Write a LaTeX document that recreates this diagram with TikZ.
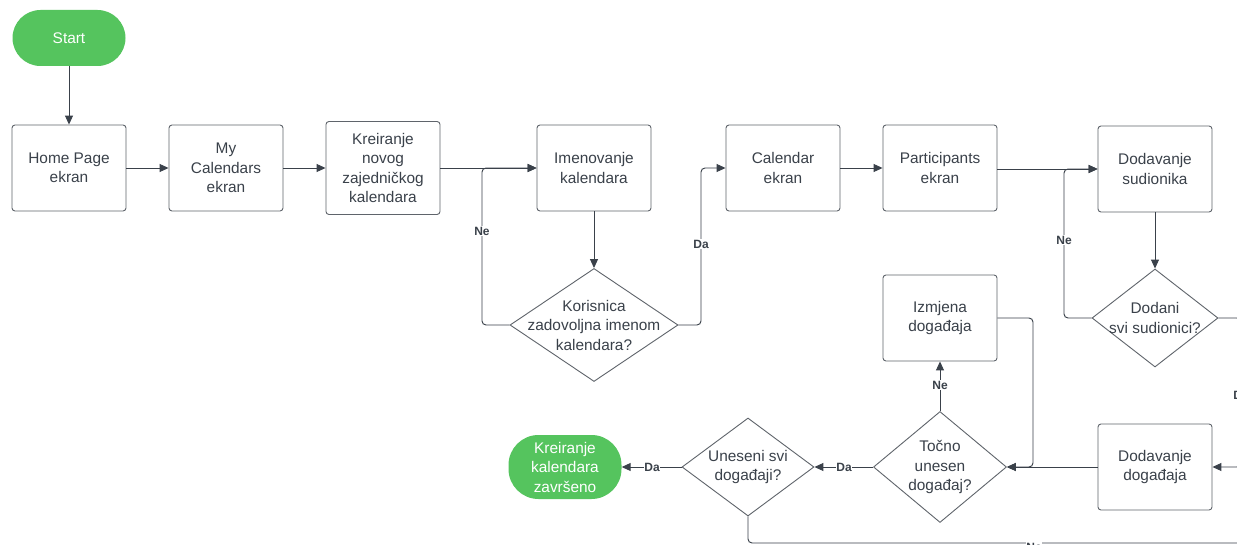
\documentclass[tikz,border=0pt]{standalone}
\usepackage{fontspec}
\setmainfont{Liberation Sans}
\usetikzlibrary{shapes.geometric,arrows.meta}
\definecolor{txt}{HTML}{3A414A}
\definecolor{bord}{HTML}{5F646B}
\definecolor{grn}{HTML}{55C45E}
\tikzset{
  x=1pt, y=-1pt,
  base/.style={align=center, text=txt, font=\fontsize{15.4}{19.5}\selectfont, inner sep=0pt},
  box/.style={base, draw=bord, line width=0.9pt, rounded corners=3pt, minimum width=114pt, minimum height=86pt},
  term/.style={base, fill=grn, text=white, minimum width=113pt},
  dia/.style={diamond, draw=bord, line width=0.9pt, inner sep=0pt},
  dtext/.style={base},
  conn/.style={draw=txt, line width=0.95pt, rounded corners=4pt, -{Triangle[length=9pt,width=8pt]}},
  plain/.style={draw=txt, line width=0.95pt, rounded corners=4pt},
  lab/.style={fill=white, text=txt, font=\bfseries\fontsize{12}{14}\selectfont, inner sep=0.6pt}
}
\begin{document}
\begin{tikzpicture}
\useasboundingbox (0,0) rectangle (1237,545);
\clip (0,0) rectangle (1237,545);
\fill[white] (0,0) rectangle (1237,545);

% nodes
\node[term, minimum height=56pt, rounded corners=28pt] (start) at (69,38) {Start};
\node[box] (home) at (69,168) {Home Page\\ekran};
\node[box] (mycal) at (226,168) {My\\Calendars\\ekran};
\node[box, minimum height=93pt] (kreir) at (383,168) {Kreiranje\\novog\\zajedničkog\\kalendara};
\node[box] (imen) at (594,168) {Imenovanje\\kalendara};
\node[dia, minimum width=168pt, minimum height=113pt] (kor) at (594,325) {};
\node[dtext] (kort) at (kor) {Korisnica\\zadovoljna imenom\\kalendara?};
\node[box] (cal) at (783,168) {Calendar\\ekran};
\node[box] (part) at (940,168) {Participants\\ekran};
\node[box] (dsud) at (1155,169) {Dodavanje\\sudionika};
\node[dia, minimum width=126pt, minimum height=98pt] (dodani) at (1155,318) {};
\node[dtext] (dodanit) at (dodani) {Dodani\\svi sudionici?};
\node[box] (izm) at (940,318) {Izmjena\\događaja};
\node[dia, minimum width=133pt, minimum height=111pt] (tocno) at (940,467) {};
\node[dtext] (tocnot) at (tocno) {Točno\\unesen\\događaj?};
\node[box] (ddog) at (1155,467) {Dodavanje\\događaja};
\node[dia, minimum width=132pt, minimum height=98pt] (unes) at (748,467) {};
\node[dtext] (unest) at (unes) {Uneseni svi\\događaji?};
\node[term, minimum height=64pt, rounded corners=30pt] (kraj) at (565,467) {Kreiranje\\kalendara\\završeno};

% helper coordinates
\coordinate (kl) at (482,325);
\coordinate (kr) at (701,325);
\coordinate (dl) at (1064,318);
\coordinate (dr) at (1241,318);
\coordinate (ir) at (1033,318);
\coordinate (ub) at (748,543);
\coordinate (ue) at (1300,543);

% connectors
\draw[conn] (start) -- (home);
\draw[conn] (home) -- (mycal);
\draw[conn] (mycal) -- (kreir);
\draw[conn] (kreir) -- (imen);
\draw[conn] (imen) -- (kor.north);
\draw[conn] (kor.west) -- (kl) |- (imen.west);
\draw[conn] (kor.east) -- (kr) |- (cal.west);
\draw[conn] (cal) -- (part);
\draw[conn] (part.east |- dsud.west) -- (dsud.west);
\draw[conn] (dsud) -- (dodani.north);
\draw[conn] (dodani.west) -- (dl) |- (dsud.west);
\draw[conn] (dodani.east) -- (dr) |- (ddog.east);
\draw[conn] (ddog) -- (tocno.east);
\draw[conn] (izm.east) -- (ir) |- (tocno.east);
\draw[conn] (tocno.north) -- (izm.south);
\draw[conn] (tocno.west) -- (unes.east);
\draw[conn] (unes.west) -- (kraj.east);
\draw[plain] (unes.south) -- (ub) -- (ue);

% labels
\node[lab] (l1) at (482,231) {Ne};
\node[lab] (l2) at (701,244) {Da};
\node[lab] (l3) at (1064,240) {Ne};
\node[lab] (l4) at (1241,395) {Da};
\node[lab] (l5) at (940,385) {Ne};
\node[lab] (l6) at (844,467) {Da};
\node[lab] (l7) at (652,467) {Da};
\node[lab] (l8) at (1034,547) {Ne};
\end{tikzpicture}
\end{document}
